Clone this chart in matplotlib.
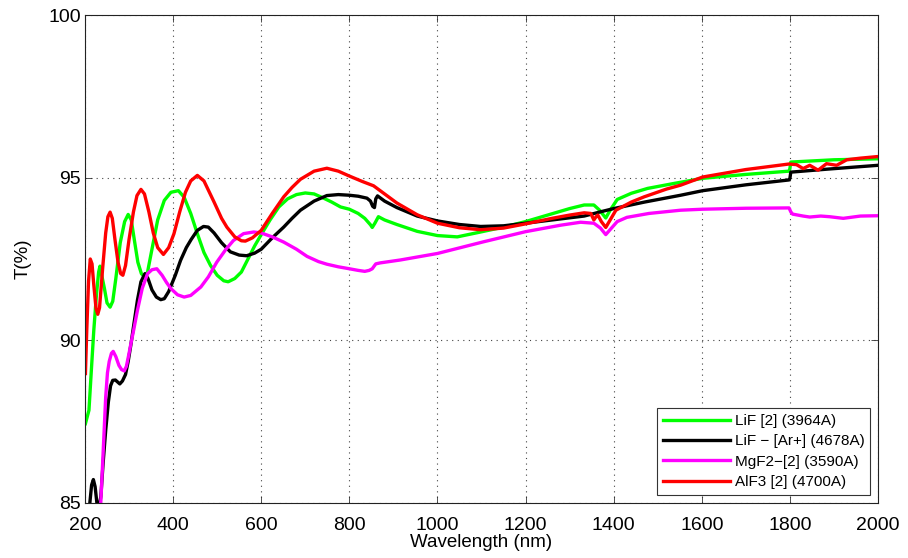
import matplotlib
matplotlib.use("Agg")
import matplotlib.pyplot as plt

# Transmission spectra of fluoride coatings
lif_wl = [201, 209, 214, 220, 226, 231, 234, 238, 244, 250, 257, 263, 270, 280, 290, 298,
          305, 313, 320, 328, 335, 342, 352, 365, 380, 395, 412, 425, 440, 455, 470, 485,
          500, 515, 525, 540, 555, 570, 585, 600, 620, 640, 660, 680, 700, 720, 740, 760,
          780, 800, 820, 835, 848, 852, 858, 866, 880, 908, 954, 1000, 1045, 1098, 1150,
          1200, 1250, 1300, 1333, 1355, 1368, 1382, 1392, 1408, 1440, 1477, 1540, 1602,
          1700, 1798, 1800, 1802, 1900, 2000]
lif_t = [87.44, 87.85, 88.98, 90.31, 91.4, 92.1, 92.28, 92.0, 91.6, 91.15, 91.02, 91.2,
         91.9, 93.0, 93.65, 93.87, 93.7, 93.0, 92.4, 92.05, 91.95, 92.1, 92.8, 93.7, 94.3,
         94.55, 94.6, 94.4, 93.9, 93.28, 92.7, 92.3, 92.0, 91.83, 91.8, 91.9, 92.1, 92.5,
         92.9, 93.25, 93.7, 94.1, 94.35, 94.48, 94.53, 94.5, 94.38, 94.25, 94.1, 94.03,
         93.9, 93.75, 93.55, 93.47, 93.6, 93.8, 93.7, 93.56, 93.35, 93.22, 93.18, 93.33,
         93.48, 93.65, 93.85, 94.05, 94.16, 94.16, 94.0, 93.76, 94.0, 94.33, 94.52, 94.67,
         94.83, 94.98, 95.1, 95.2, 95.28, 95.48, 95.55, 95.58]

lif_ar_wl = [208, 211, 215, 219, 223, 227, 231, 236, 241, 247, 253, 258, 263, 269, 274, 279,
             285, 292, 298, 304, 311, 319, 327, 336, 343, 352, 362, 372, 380, 390, 405, 417,
             430, 441, 455, 469, 480, 493, 510, 530, 550, 567, 585, 600, 625, 651, 670, 689,
             720, 749, 775, 800, 820, 840, 848, 853, 857, 860, 864, 880, 908, 954, 1000,
             1050, 1098, 1150, 1200, 1260, 1333, 1370, 1400, 1470, 1552, 1602, 1700, 1798,
             1800, 1802, 1883, 2000]
lif_ar_t = [84.6, 85.0, 85.55, 85.72, 85.5, 85.0, 84.8, 85.2, 86.2, 87.23, 88.1, 88.6, 88.77,
            88.78, 88.72, 88.66, 88.75, 88.95, 89.35, 89.85, 90.5, 91.23, 91.8, 92.05, 91.9,
            91.55, 91.33, 91.25, 91.28, 91.5, 92.0, 92.46, 92.85, 93.1, 93.38, 93.5, 93.48,
            93.3, 93.0, 92.72, 92.62, 92.6, 92.68, 92.8, 93.15, 93.48, 93.75, 94.0, 94.28,
            94.45, 94.48, 94.46, 94.43, 94.37, 94.28, 94.12, 94.08, 94.35, 94.44, 94.28,
            94.08, 93.82, 93.67, 93.56, 93.5, 93.52, 93.6, 93.7, 93.82, 93.95, 94.05, 94.25,
            94.46, 94.6, 94.78, 94.93, 94.98, 95.17, 95.26, 95.38]

mgf2_wl = [233, 236, 241, 247, 251, 255, 260, 264, 270, 277, 283, 289, 294, 300, 305, 311,
           319, 330, 342, 352, 363, 375, 385, 395, 410, 425, 440, 463, 480, 499, 520, 537,
           560, 583, 600, 625, 651, 680, 704, 730, 749, 775, 800, 820, 835, 845, 852, 860,
           870, 916, 1000, 1105, 1200, 1280, 1325, 1355, 1370, 1382, 1395, 1408, 1430,
           1480, 1552, 1602, 1700, 1798, 1802, 1806, 1830, 1845, 1870, 1890, 1921, 1960,
           2000]
mgf2_t = [84.6, 85.05, 86.5, 88.26, 89.0, 89.35, 89.6, 89.66, 89.5, 89.23, 89.1, 89.06,
          89.2, 89.6, 89.95, 90.35, 90.92, 91.6, 92.05, 92.17, 92.2, 92.0, 91.78, 91.59,
          91.4, 91.33, 91.38, 91.64, 91.95, 92.4, 92.8, 93.07, 93.28, 93.33, 93.3, 93.18,
          93.02, 92.8, 92.58, 92.42, 92.34, 92.26, 92.2, 92.15, 92.12, 92.15, 92.2, 92.35,
          92.38, 92.47, 92.67, 93.03, 93.34, 93.54, 93.63, 93.6, 93.45, 93.25, 93.45,
          93.65, 93.78, 93.9, 94.0, 94.03, 94.06, 94.07, 93.95, 93.88, 93.82, 93.79, 93.82,
          93.8, 93.75, 93.82, 93.83]

alf3_wl = [201, 204, 208, 212, 216, 220, 225, 229, 233, 240, 247, 252, 257, 262, 268, 275,
           281, 286, 292, 300, 310, 318, 327, 335, 345, 355, 365, 378, 390, 402, 415, 428,
           440, 455, 470, 493, 510, 522, 540, 555, 564, 580, 600, 625, 651, 670, 689, 720,
           749, 775, 800, 830, 855, 880, 908, 954, 1000, 1050, 1098, 1150, 1200, 1260,
           1300, 1333, 1348, 1355, 1360, 1364, 1372, 1382, 1392, 1405, 1440, 1469, 1520,
           1552, 1602, 1700, 1798, 1815, 1830, 1845, 1864, 1883, 1906, 1929, 1960, 2000]
alf3_t = [88.98, 90.3, 91.8, 92.5, 92.35, 91.7, 90.98, 90.8, 91.0, 92.2, 93.3, 93.8, 93.94,
          93.75, 93.1, 92.4, 92.05, 92.0, 92.3, 93.1, 93.95, 94.45, 94.64, 94.5, 93.95,
          93.3, 92.85, 92.64, 92.85, 93.28, 93.95, 94.55, 94.9, 95.07, 94.9, 94.25, 93.75,
          93.48, 93.18, 93.06, 93.05, 93.15, 93.38, 93.9, 94.41, 94.7, 94.95, 95.2, 95.29,
          95.2, 95.05, 94.88, 94.75, 94.5, 94.22, 93.86, 93.6, 93.46, 93.4, 93.45, 93.58,
          93.75, 93.85, 93.92, 93.9, 93.7, 93.8, 93.85, 93.65, 93.47, 93.7, 94.0, 94.25,
          94.41, 94.65, 94.77, 95.02, 95.25, 95.42, 95.4, 95.28, 95.38, 95.23, 95.43,
          95.38, 95.55, 95.6, 95.65]

series = [
    (lif_wl, lif_t, "#00ff00", "LiF [2] (3964A)"),
    (lif_ar_wl, lif_ar_t, "#000000", "LiF \u2212 [Ar+] (4678A)"),
    (mgf2_wl, mgf2_t, "#ff00ff", "MgF2\u2212[2] (3590A)"),
    (alf3_wl, alf3_t, "#ff0000", "AlF3 [2] (4700A)"),
]

x_ticks = list(range(200, 2001, 200))
y_ticks = [85, 90, 95, 100]

plt.rcParams["font.family"] = ["Liberation Sans", "DejaVu Sans"]

fig = plt.figure(figsize=(9.08, 5.58), dpi=100)
ax = fig.add_axes([0.0936, 0.0986, 0.8734, 0.8745])

for wl, t, color, label in series:
    ax.plot(wl, t, color=color, lw=2.4, label=label, solid_joinstyle="round")

ax.set_xlim(200, 2000)
ax.set_ylim(85, 100)
ax.set_xticks(x_ticks)
ax.set_yticks(y_ticks)
ax.tick_params(axis="both", direction="in", top=True, right=True, length=5,
               width=0.6, labelsize=14, colors="#333333", labelcolor="black")
ax.tick_params(axis="x", pad=10)
ax.tick_params(axis="y", pad=3)
ax.grid(True, color="#444444", linestyle=(0, (1, 4)), linewidth=0.8)
for sp in ax.spines.values():
    sp.set_linewidth(0.8)
    sp.set_color("#222222")

ax.set_xlabel("Wavelength (nm)", fontsize=13.5, labelpad=0)
ax.set_ylabel("T(%)", fontsize=13.5, labelpad=12)

leg = ax.legend(loc="lower right", fontsize=11, frameon=True, fancybox=False,
                edgecolor="#333333", framealpha=1, handlelength=4.4,
                handletextpad=0.3, borderpad=0.4, labelspacing=0.42,
                borderaxespad=0.5)
leg.get_frame().set_linewidth(0.8)

fig.savefig("out.png", dpi=100)
